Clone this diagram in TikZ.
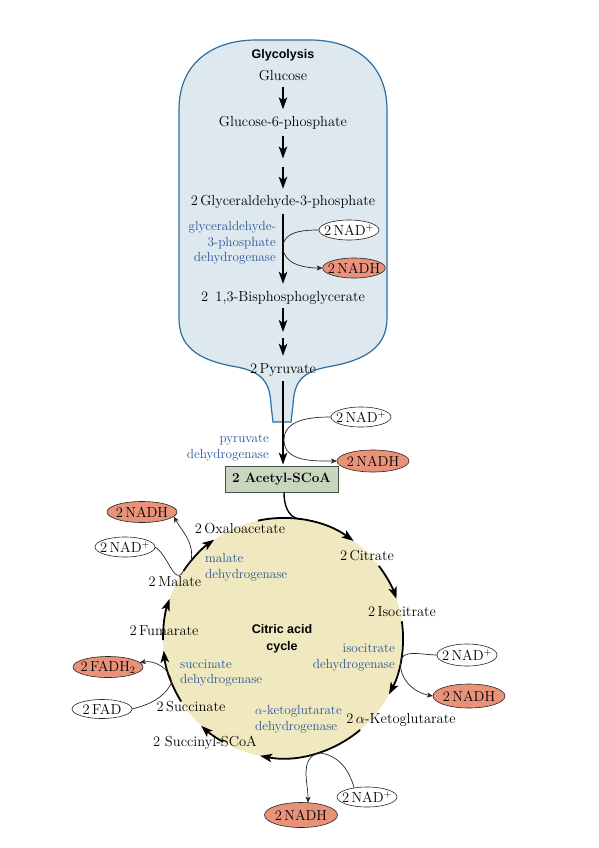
\documentclass[tikz,border=0pt]{standalone}
\usepackage{fontspec}
\newfontfamily\sansb{Liberation Sans}
\usetikzlibrary{arrows.meta,shapes.geometric,calc}
\definecolor{labblue}{RGB}{40,84,150}
\definecolor{salmon}{RGB}{232,146,122}
\definecolor{flaskfill}{RGB}{222,232,239}
\definecolor{flaskline}{RGB}{46,110,160}
\definecolor{cyclefill}{RGB}{240,233,192}
\definecolor{boxfill}{RGB}{200,214,192}
\definecolor{boxline}{RGB}{70,82,70}
\tikzset{
 mtxt/.style={font=\fontsize{14.5}{17}\selectfont, inner sep=2pt, text height=10pt, text depth=3pt},
 enz/.style={font=\fontsize{13.2}{15.5}\selectfont, text=labblue, inner sep=0pt},
 hdr/.style={font=\sansb\bfseries\fontsize{12.5}{17}\selectfont, inner sep=0pt},
 nad/.style={ellipse, draw=black!85, line width=0.6pt, fill=white, inner xsep=-4pt, inner ysep=0pt, minimum height=20pt, minimum width=60pt, outer sep=0pt, font=\fontsize{14.5}{16}\selectfont},
 nadh/.style={nad, fill=salmon},
 flow/.style={line width=1.4pt, -{Stealth[length=12pt,width=8.5pt,inset=3pt]}},
 cyc/.style={line width=1.8pt, -{Stealth[length=12pt,width=8.5pt,inset=3pt]}},
 branch/.style={line width=0.7pt, draw=black!85, -{Stealth[length=6pt,width=5pt,inset=1.5pt]}},
}
\begin{document}
\begin{tikzpicture}[x=1pt,y=1pt]
\path[use as bounding box] (0,0) rectangle (598,-848);
% flask
\draw[flaskline, fill=flaskfill, line width=1.2pt]
 (179,-110) -- (179,-318) .. controls (179,-345) and (195,-360) .. (237,-367)
 .. controls (262,-372) and (270,-382) .. (271,-405) -- (273,-422) -- (291,-422) -- (293,-405)
 .. controls (294,-382) and (302,-372) .. (327,-367) .. controls (369,-360) and (387,-345) .. (387,-318)
 -- (387,-110) .. controls (387,-60) and (350,-40) .. (310,-40) -- (256,-40)
 .. controls (216,-40) and (179,-60) .. (179,-110) -- cycle;
% cycle disc
\coordinate (C) at (283,-638);
\fill[cyclefill] (C) circle[radius=120];

% glycolysis
\node[hdr] (gly) at (283,-55) {Glycolysis};
\node[mtxt] (glc) at (283,-77) {Glucose};
\node[mtxt] (g6p) at (283,-123) {Glucose-6-phosphate};
\node[mtxt] (g3p) at (283,-202) {2\,Glyceraldehyde-3-phosphate};
\node[mtxt] (bpg) at (283,-298) {2\enspace 1,3-Bisphosphoglycerate};
\node[mtxt] (pyr) at (283,-370) {2\,Pyruvate};
\node[draw=boxline, fill=boxfill, line width=0.8pt, minimum width=113pt, minimum height=26pt, inner sep=0pt,
 font=\bfseries\fontsize{13.5}{15}\selectfont] (acetyl) at (281.5,-479) {2 Acetyl-SCoA};

\coordinate (m1) at (283,-162.5);
\coordinate (m2) at (283,-335);
\draw[flow, shorten <=1pt, shorten >=5pt] (glc) -- (g6p);
\draw[flow, shorten <=4pt, shorten >=4pt] (g6p) -- (m1);
\draw[flow, shorten <=4pt, shorten >=4.5pt] (m1) -- (g3p);
\draw[flow, shorten <=3pt, shorten >=5.5pt] (g3p) -- (bpg);
\draw[flow, shorten <=1.5pt, shorten >=3pt] (bpg) -- (m2);
\draw[flow, shorten <=3pt, shorten >=5.5pt] (m2) -- (pyr);
\draw[flow, shorten <=2.5pt, shorten >=1pt] (pyr) -- (pyr.south |- acetyl.north);

\node[enz, align=right, anchor=east] (gapdh) at (276,-243) {glyceraldehyde-\\3-phosphate\\dehydrogenase};
\node[enz, align=right, anchor=east] (pdh) at (269,-448) {pyruvate\\dehydrogenase};

\node[nad] (gNAD) at (349,-230) {2\,NAD$^+$};
\node[nadh, minimum width=62pt] (gNADH) at (354,-268) {2\,NADH};
\node[nad] (pNAD) at (361,-417) {2\,NAD$^+$};
\node[nadh, minimum width=72pt, minimum height=22pt] (pNADH) at (373,-461) {2\,NADH};

\coordinate (bg) at (283,-247);
\coordinate (bp) at (284,-440);
\draw[branch] (gNAD.west) to[out=180,in=90] (bg) to[out=-90,in=180] (gNADH.west);
\draw[branch] (pNAD.west) to[out=180,in=90] (bp) to[out=-90,in=180] (pNADH.west);

% citric acid cycle
\coordinate (aP) at ([shift={(82:120)}]C);
\draw[line width=1.4pt] ([xshift=2.5pt]acetyl.south) to[out=-90,in=172] (aP);
\draw[cyc] ([shift={(102:120)}]C) arc[start angle=102,end angle=54,radius=120];
\draw[cyc] ([shift={(37:120)}]C) arc[start angle=37,end angle=19,radius=120];
\draw[cyc] ([shift={(8:120)}]C) arc[start angle=8,end angle=-28,radius=120];
\draw[cyc] ([shift={(-50:120)}]C) arc[start angle=-50,end angle=-101,radius=120];
\draw[cyc] ([shift={(-120:120)}]C) arc[start angle=-120,end angle=-133,radius=120];
\draw[cyc] ([shift={(-148:120)}]C) arc[start angle=-148,end angle=-174,radius=120];
\draw[cyc] ([shift={(181:120)}]C) arc[start angle=181,end angle=161,radius=120];
\draw[cyc] ([shift={(146:120)}]C) arc[start angle=146,end angle=125,radius=120];

\node[hdr, align=center] (cac) at (282,-639) {Citric acid\\cycle};

\node[mtxt] (oaa) at (240,-530) {2\,Oxaloacetate};
\node[mtxt] (cit) at (367,-557) {2\,Citrate};
\node[mtxt] (icit) at (402,-613) {2\,Isocitrate};
\node[mtxt] (akg) at (401,-720) {2\,$\alpha$-Ketoglutarate};
\node[mtxt] (scoa) at (205,-743) {2 Succinyl-SCoA};
\node[mtxt] (succ) at (191,-708) {2\,Succinate};
\node[mtxt] (fum) at (164,-632) {2\,Fumarate};
\node[mtxt] (mal) at (175,-583) {2\,Malate};

\node[enz, align=left, anchor=west] (mdh) at (205,-567.5) {malate\\dehydrogenase};
\node[enz, align=right, anchor=east] (idh) at (395,-657.5) {isocitrate\\dehydrogenase};
\node[enz, align=left, anchor=west] (sdh) at (180,-673) {succinate\\dehydrogenase};
\node[enz, align=left, anchor=west] (kdh) at (255,-719.5) {$\alpha$-ketoglutarate\\dehydrogenase};

\node[nadh, minimum width=70pt, minimum height=21pt] (mNADH) at (142,-512) {2\,NADH};
\node[nad] (mNAD) at (125,-547) {2\,NAD$^+$};
\node[nadh, minimum width=70pt, minimum height=21pt] (sFADH) at (108,-667) {2\,FADH$_2$};
\node[nad, minimum height=19pt] (sFAD) at (102,-709) {2\,FAD};
\node[nad, minimum height=22pt] (iNAD) at (467,-655) {2\,NAD$^+$};
\node[nadh, minimum width=72pt, minimum height=24pt] (iNADH) at (469,-696) {2\,NADH};
\node[nad] (kNAD) at (367,-797) {2\,NAD$^+$};
\node[nadh, minimum width=73pt, minimum height=25pt] (kNADH) at (301,-815) {2\,NADH};

\coordinate (mP1) at ([shift={(147:120)}]C);
\coordinate (sP) at ([shift={(-158:120)}]C);
\coordinate (iP) at ([shift={(-12:120)}]C);
\coordinate (kP) at ([shift={(-73:120)}]C);
\draw[branch] (mNAD.east) to[out=-30,in=237] (mP1) arc[start angle=147,end angle=140,radius=120] to[out=80,in=-60] (mNADH.-8);
\draw[branch] (sFAD.east) to[out=15,in=-120] (sP) to[out=95,in=10] (sFADH.8);
\draw[branch] (iNAD.west) to[out=180,in=90] (iP) to[out=-90,in=170] (iNADH.west);
\draw[branch] (kNAD.145) to[out=105,in=-5] (kP) to[out=200,in=90] (kNADH.60);
\end{tikzpicture}
\end{document}
